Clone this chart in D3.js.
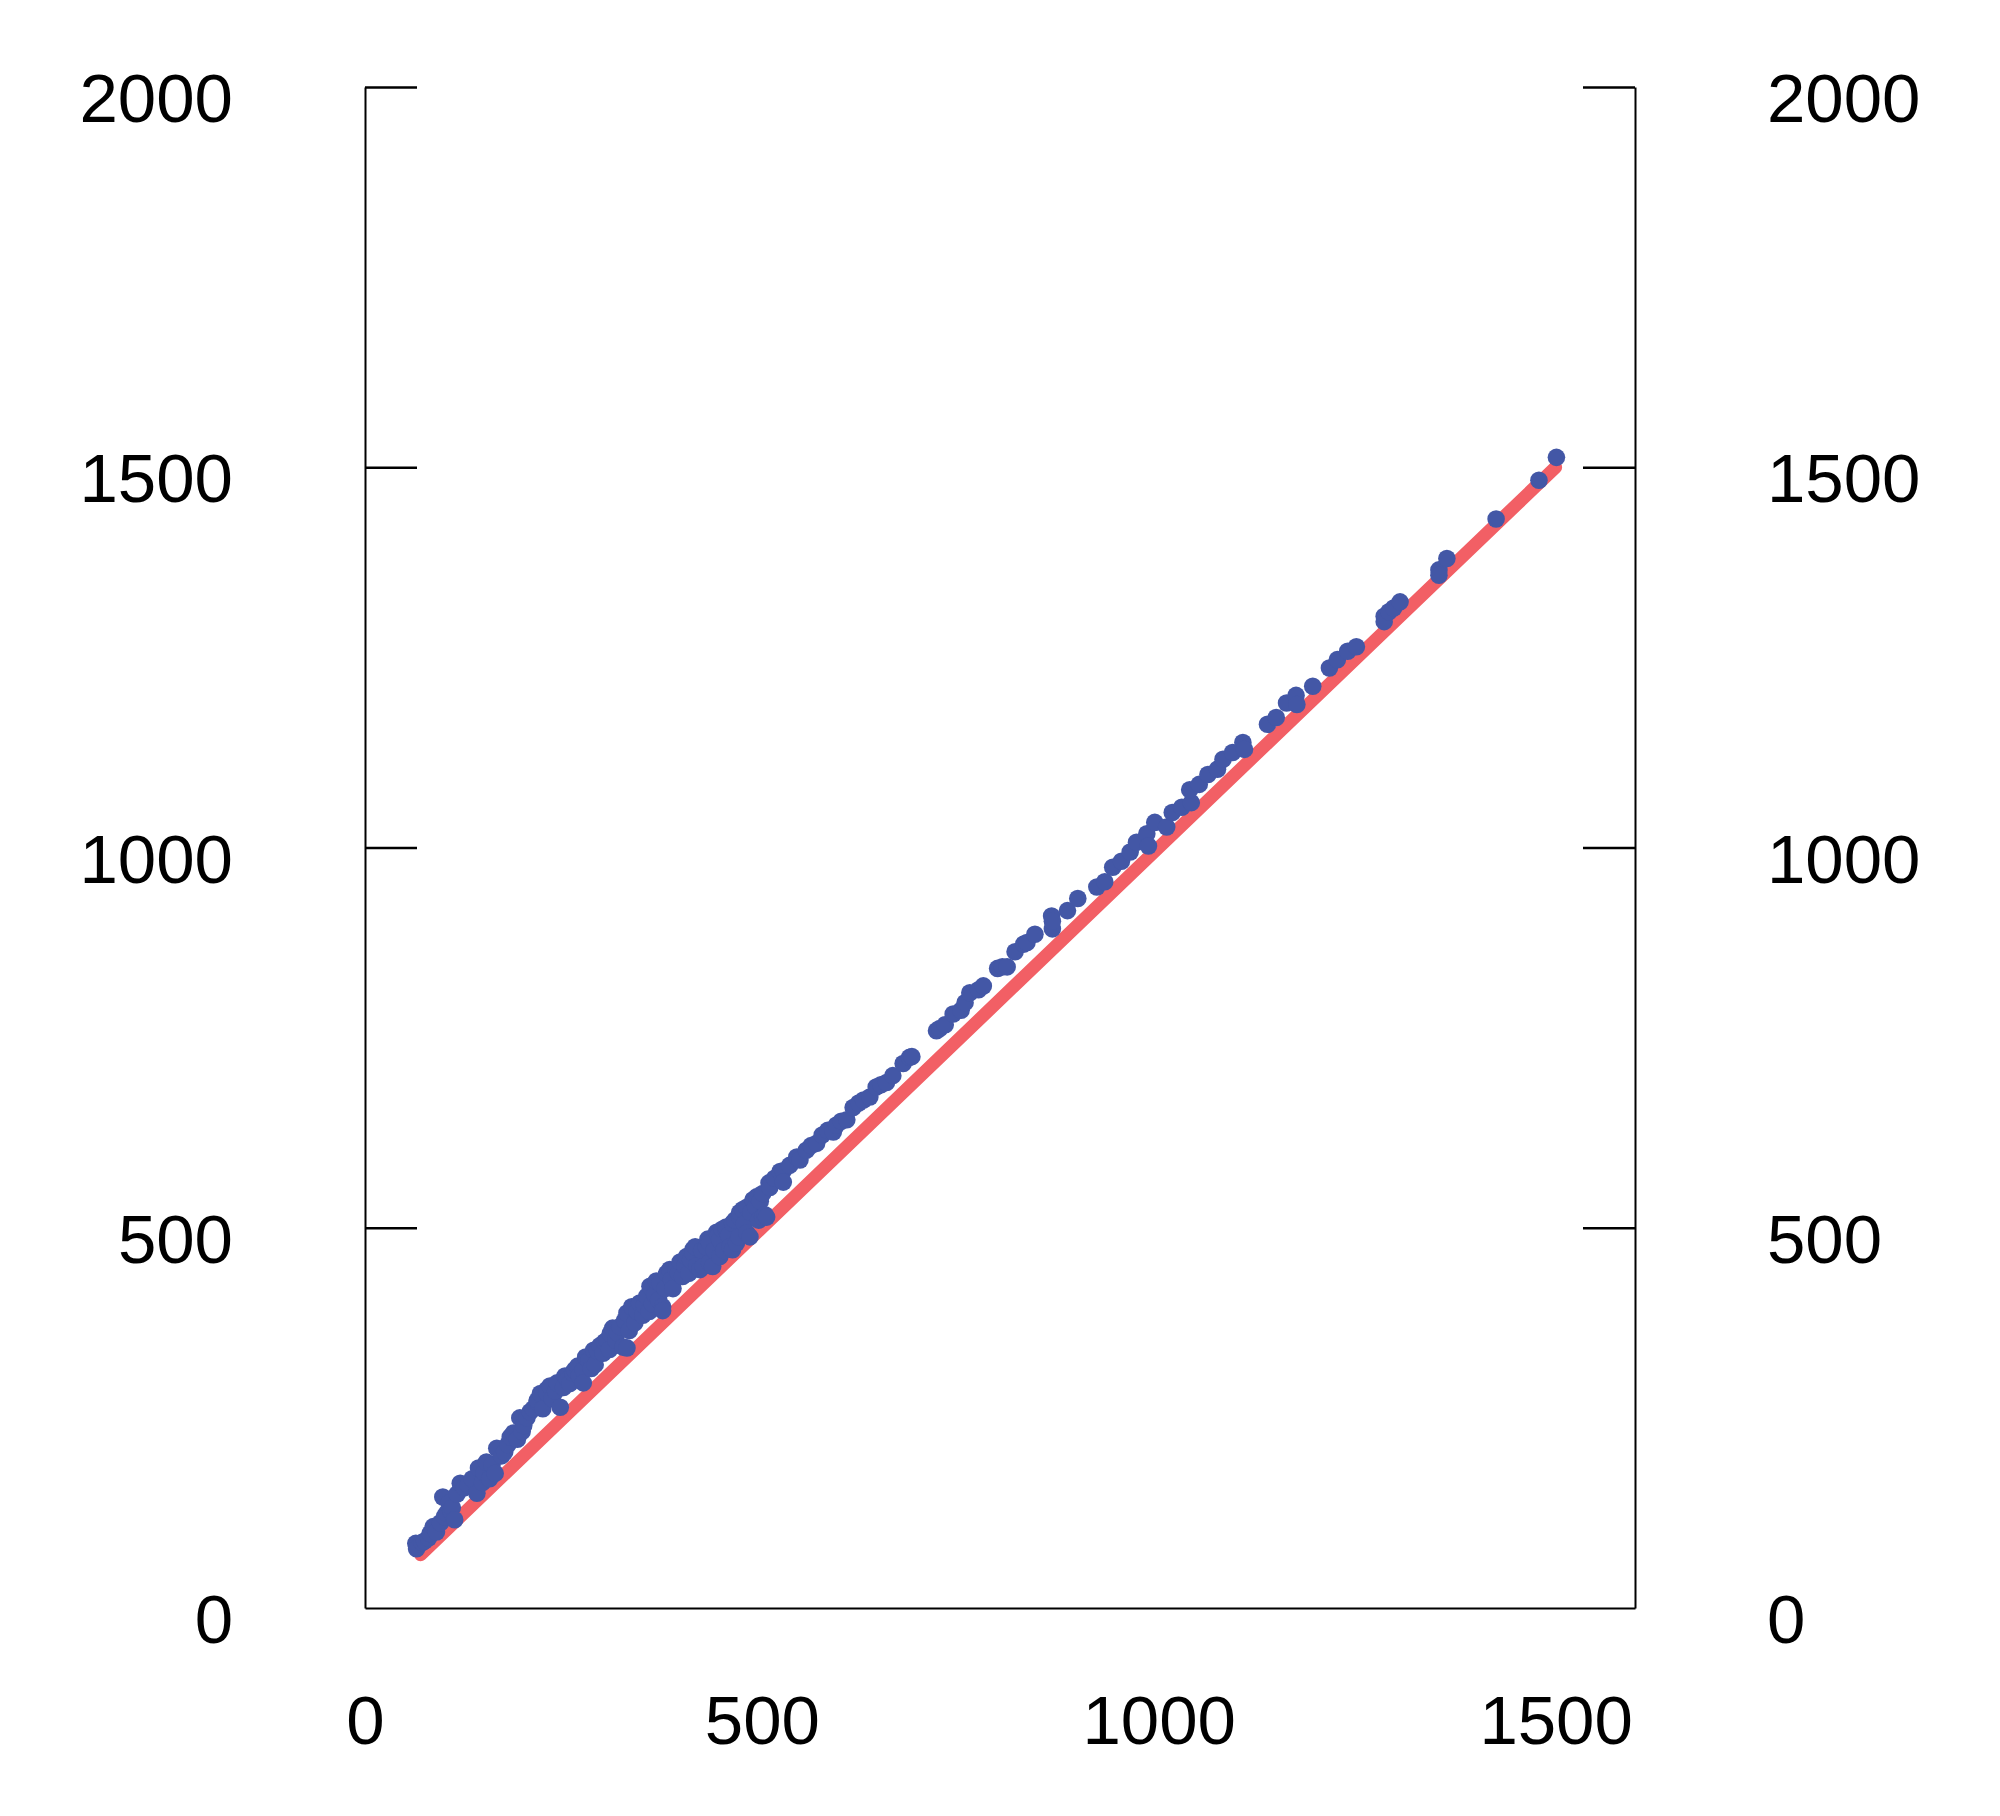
<!DOCTYPE html>
<html>
<head>
<meta charset="utf-8">
<script src="https://cdn.jsdelivr.net/npm/d3@7"></script>
<style>
  html, body { margin: 0; padding: 0; background: #fff; }
  svg { display: block; }
  text { font-family: "Liberation Sans", Arial, Helvetica, sans-serif; }
</style>
</head>
<body>
<svg id="chart" width="2000" height="1816"></svg>
<script>
// ---- Data ----
const xTicks = [0, 500, 1000, 1500];
const yTicks = [0, 500, 1000, 1500, 2000];

// reference line y = x
const lineX = [70, 1500];
const lineY = [70, 1500];

// scatter points
const pointX = [64,65,72,75,80,82,86,90,95,98,100,103,106,108,110,113,116,120,125,130,135,141,143,148,150,153,157,160,164,166,172,176,180,183,187,192,195,198,200,204,208,212,217,217,221,224,229,229,233,236,240,242,246,250,252,255,258,262,264,268,270,275,275,278,282,285,288,290,293,296,300,302,305,308,309,312,316,318,321,325,327,330,330,333,336,340,343,346,350,352,355,358,359,362,365,367,370,372,375,375,378,380,384,386,388,392,395,397,400,403,405,408,410,413,413,416,418,422,424,426,430,432,434,434,438,440,443,445,447,447,450,452,455,455,458,460,463,463,466,468,471,472,472,476,478,481,481,485,486,489,489,492,494,496,498,501,501,504,506,509,510,516,523,527,527,535,544,548,556,562,569,576,583,590,594,600,607,615,622,628,636,644,650,657,665,678,686,689,720,724,731,741,751,756,762,773,779,797,803,809,819,830,834,844,865,866,866,885,898,922,932,942,953,964,972,985,987,995,1010,1017,1029,1041,1039,1051,1062,1074,1081,1093,1106,1108,1137,1148,1161,1173,1174,1194,1215,1225,1238,1249,1284,1284,1290,1296,1304,1353,1353,1363,1425,1479,1501];
const pointY = [85,78,86,88,92,98,107,100,112,146,120,125,138,128,132,116,150,164,158,162,170,151,184,165,178,192,170,188,177,210,200,205,215,225,230,222,250,232,240,250,258,262,271,273,282,262,287,283,292,275,285,296,264,290,305,300,295,309,313,318,305,313,296,330,325,315,339,320,338,345,335,350,352,340,361,368,352,362,370,343,378,388,342,365,396,375,390,401,385,398,410,390,423,400,412,430,405,427,396,391,420,440,445,432,420,445,440,455,436,450,462,440,458,471,467,475,450,445,470,449,475,485,480,454,449,470,494,490,484,462,498,470,497,501,490,475,506,471,510,480,488,514,520,524,505,527,493,488,520,536,537,528,541,510,535,545,514,517,514,559,553,565,574,575,560,582,593,589,602,608,611,622,628,626,635,640,642,658,664,668,672,685,688,691,700,716,724,725,759,762,767,781,786,796,809,813,818,841,843,843,863,873,875,886,910,893,903,917,933,948,955,974,982,994,1007,1018,1002,1033,1027,1046,1053,1059,1076,1083,1096,1103,1116,1125,1138,1129,1162,1171,1190,1200,1188,1212,1236,1247,1258,1264,1304,1297,1310,1315,1323,1365,1358,1380,1432,1483,1513];

// ---- Chart ----
const svg = d3.select("#chart");
const x = d3.scaleLinear().domain([0, 1600]).range([365, 1635]);
const y = d3.scaleLinear().domain([0, 2000]).range([1608, 87]);

const fontSize = 69;

// reference line
const lineData = lineX.map((v, i) => [v, lineY[i]]);
svg.append("path")
  .datum(lineData)
  .attr("d", d3.line().x(d => x(d[0])).y(d => y(d[1])))
  .attr("fill", "none")
  .attr("stroke", "#f25f65")
  .attr("stroke-width", 13)
  .attr("stroke-linecap", "round");

// points
const pts = pointX.map((v, i) => [v, pointY[i]]);
svg.append("g").selectAll("circle")
  .data(pts)
  .join("circle")
  .attr("cx", d => x(d[0]))
  .attr("cy", d => y(d[1]))
  .attr("r", 8.8)
  .attr("fill", "#4357a6");

// axes
function styleAxis(g) {
  g.select(".domain").attr("stroke", "#000").attr("stroke-width", 2);
  g.selectAll(".tick line").attr("stroke", "#000").attr("stroke-width", 2.5);
  g.selectAll(".tick text")
    .attr("fill", "#000")
    .style("font-size", fontSize + "px")
    .style("font-family", '"Liberation Sans", Arial, Helvetica, sans-serif');
}

const gLeft = svg.append("g")
  .attr("transform", `translate(${x(0)},0)`)
  .call(d3.axisLeft(y).tickValues(yTicks).tickSize(-52).tickSizeOuter(0).tickPadding(132).tickFormat(d3.format("d")))
  .call(styleAxis);
gLeft.selectAll(".tick text").attr("dy", "0.5em");
gLeft.selectAll(".tick").filter(d => d === 0).select("line").remove();

const gRight = svg.append("g")
  .attr("transform", `translate(${x(1600)},0)`)
  .call(d3.axisRight(y).tickValues(yTicks).tickSize(-52).tickSizeOuter(0).tickPadding(132).tickFormat(d3.format("d")))
  .call(styleAxis);
gRight.selectAll(".tick text").attr("dy", "0.5em");
gRight.selectAll(".tick").filter(d => d === 0).select("line").remove();

const gBottom = svg.append("g")
  .attr("transform", `translate(0,${y(0)})`)
  .call(d3.axisBottom(x).tickValues(xTicks).tickSize(0).tickSizeOuter(0).tickPadding(87).tickFormat(d3.format("d")))
  .call(styleAxis);
gBottom.selectAll(".tick line").remove();
</script>
</body>
</html>
